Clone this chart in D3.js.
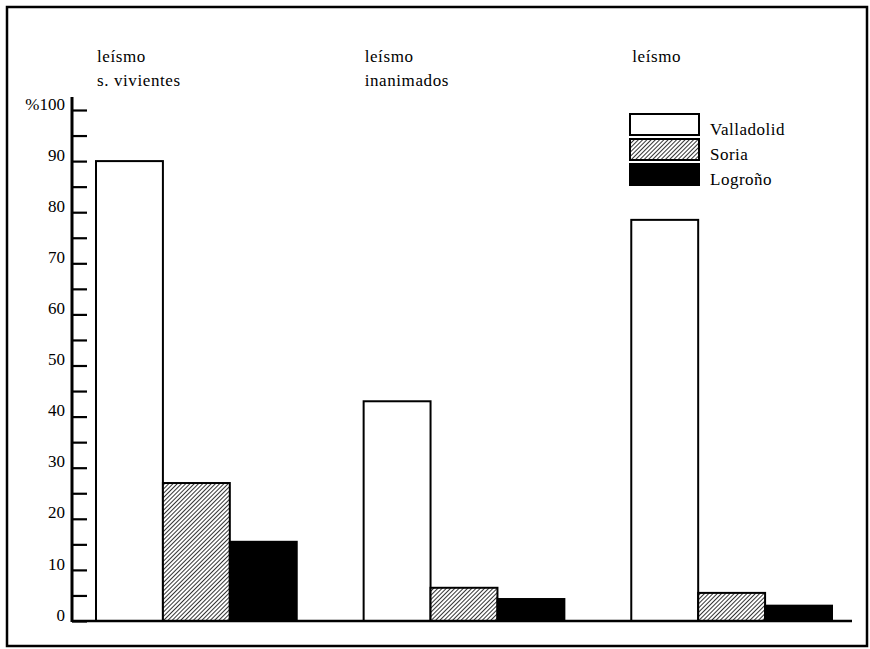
<!DOCTYPE html>
<html>
<head>
<meta charset="utf-8">
<script src="https://cdn.jsdelivr.net/npm/d3@7"></script>
<style>
  html, body { margin: 0; padding: 0; background: #fff; }
  svg { display: block; }
  text { font-family: "Liberation Serif", "DejaVu Serif", serif; fill: #000; }
</style>
</head>
<body>
<svg id="chart" width="870" height="649"></svg>
<script>
// ---- data ----
const categories = ["leísmo s. vivientes", "leísmo inanimados", "leísmo"];
const categoryLabelLines = [["leísmo", "s. vivientes"], ["leísmo", "inanimados"], ["leísmo"]];
const seriesNames = ["Valladolid", "Soria", "Logroño"];
const valladolid = [90, 43, 78.5];
const soria = [27, 6.5, 5.5];
const logrono = [15.5, 4.3, 3];
const majorTicks = [0, 10, 20, 30, 40, 50, 60, 70, 80, 90, 100];
const allTicks = d3.range(0, 101, 5);

const seriesValues = [valladolid, soria, logrono];

// ---- layout ----
const svg = d3.select("#chart");
const axisX = 72;

const y = d3.scaleLinear().domain([0, 100]).range([621, 110]);
const x0 = d3.scaleBand().domain(categories).range([96, 832]).paddingInner(0.25).paddingOuter(0);
const x1 = d3.scaleBand().domain(seriesNames).range([0, x0.bandwidth()]).padding(0);

// hatch pattern
const defs = svg.append("defs");
const pat = defs.append("pattern")
  .attr("id", "hatch")
  .attr("patternUnits", "userSpaceOnUse")
  .attr("width", 3).attr("height", 3)
  .attr("patternTransform", "rotate(45)");
pat.append("rect").attr("width", 3).attr("height", 3).attr("fill", "#fff");
pat.append("line").attr("x1", 0).attr("y1", 0).attr("x2", 0).attr("y2", 3)
  .attr("stroke", "#000").attr("stroke-width", 1.6);

const fills = { "Valladolid": "#fff", "Soria": "url(#hatch)", "Logroño": "#000" };

// frame
svg.append("rect")
  .attr("x", 7).attr("y", 7).attr("width", 860).attr("height", 639)
  .attr("fill", "none").attr("stroke", "#000").attr("stroke-width", 2.5);

// bars
const data = categories.map((c, i) => ({
  cat: c,
  vals: seriesNames.map((s, j) => ({ series: s, value: seriesValues[j][i] }))
}));

const groups = svg.append("g").selectAll("g").data(data).join("g")
  .attr("transform", d => `translate(${x0(d.cat)},0)`);

groups.selectAll("rect").data(d => d.vals).join("rect")
  .attr("x", d => x1(d.series))
  .attr("y", d => y(d.value))
  .attr("width", x1.bandwidth())
  .attr("height", d => y(0) - y(d.value))
  .attr("fill", d => fills[d.series])
  .attr("stroke", "#000")
  .attr("stroke-width", 2);

// category labels
categories.forEach((c, i) => {
  const t = svg.append("text")
    .attr("x", x0(c) + 1)
    .attr("y", 62)
    .attr("font-size", 17)
    .attr("letter-spacing", 0.6);
  categoryLabelLines[i].forEach((line, k) => {
    t.append("tspan").attr("x", x0(c) + 1).attr("dy", k === 0 ? 0 : 24).text(line);
  });
});

// y axis: ticks to the right
const tickAxis = d3.axisRight(y).tickValues(allTicks).tickSize(15).tickFormat("");
const gT = svg.append("g").attr("transform", `translate(${axisX},0)`).call(tickAxis);
gT.select(".domain").remove();
gT.selectAll(".tick line").attr("stroke", "#000").attr("stroke-width", 2.2);

// axis line
svg.append("line")
  .attr("x1", axisX).attr("x2", axisX)
  .attr("y1", 97).attr("y2", y(0) + 1)
  .attr("stroke", "#000").attr("stroke-width", 3);

// labels on the left
const labelAxis = d3.axisLeft(y).tickValues(majorTicks).tickSize(0).tickPadding(7)
  .tickFormat(d => d === 100 ? "%100" : d);
const gL = svg.append("g").attr("transform", `translate(${axisX},0)`).call(labelAxis);
gL.select(".domain").remove();
gL.selectAll(".tick text")
  .attr("font-family", "Liberation Serif, DejaVu Serif, serif")
  .attr("font-size", 17)
  .attr("dy", "-0.05em")
  .attr("fill", "#000");

// baseline
svg.append("line")
  .attr("x1", axisX).attr("x2", 852)
  .attr("y1", y(0)).attr("y2", y(0))
  .attr("stroke", "#000").attr("stroke-width", 2.5);

// legend
const legend = svg.append("g").attr("transform", "translate(630,114)");
seriesNames.forEach((s, i) => {
  const g = legend.append("g").attr("transform", `translate(0,${i * 25})`);
  g.append("rect").attr("width", 69).attr("height", 21)
    .attr("fill", fills[s]).attr("stroke", "#000").attr("stroke-width", 2);
  g.append("text").attr("x", 80).attr("y", 21).attr("font-size", 17)
    .attr("letter-spacing", 0.5).text(s);
});
</script>
</body>
</html>
